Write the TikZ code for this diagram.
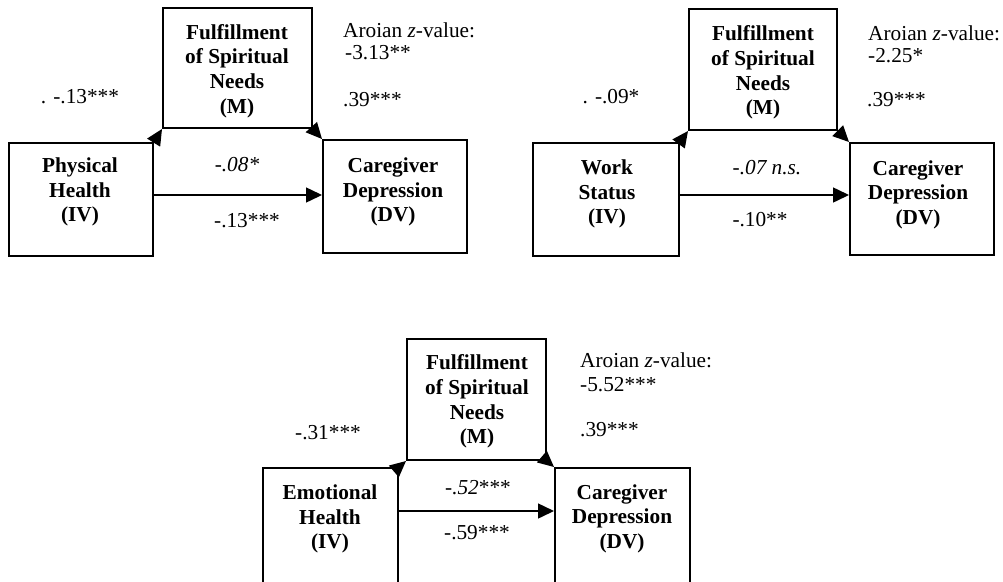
\documentclass[tikz,border=0pt]{standalone}
\usepackage{fontspec}
\setmainfont{Liberation Serif}
\usetikzlibrary{arrows.meta,calc}
\begin{document}
\begin{tikzpicture}[x=1pt,y=-1pt,
  every node/.style={font=\fontsize{21.3}{24.6}\selectfont, inner sep=0pt},
  box/.style={draw, line width=2pt, rectangle, minimum width=#1},
  boxtext/.style={align=center, font=\fontsize{21.3}{24.6}\selectfont\bfseries},
  lab/.style={anchor=west},
  clab/.style={anchor=center},
  arr/.style={line width=1.5pt, -{Triangle[length=16pt,width=15pt]}}
]
\useasboundingbox (0,0) rectangle (1003,581);
\clip (0,0) rectangle (1003,581);

% ---------------- Panel 1 ----------------
\node[box=149pt, minimum height=120pt] (m1) at (237.5,68) {};
\node[box=144pt, minimum height=113pt] (iv1) at (81,199.5) {};
\node[box=144pt, minimum height=113pt] (dv1) at (395,196.5) {};
\node[boxtext] (m1t) at (237,71) {Fulfillment\\of Spiritual\\Needs\\(M)};
\node[boxtext] (iv1t) at (80,192) {Physical\\Health\\(IV)};
\node[boxtext] (dv1t) at (393,192) {Caregiver\\Depression\\(DV)};
\coordinate (h1) at (0,195);
\draw[arr] (iv1.north east) -- (m1.south west);
\draw[arr] (m1.south east) -- (dv1.north west);
\draw[arr] (iv1.east |- h1) -- (dv1.west |- h1);
\node[clab] (a1) at (80,97) {. -.13***};
\node[lab] (z1) at (343,30) {Aroian \textit{z}-value:};
\node[lab] (zv1) at (345,53) {-3.13**};
\node[lab] (b1) at (343,100) {.39***};
\node[clab] (c1) at (237,165) {\textit{-.08*}};
\node[clab] (d1) at (247,221) {-.13***};

% ---------------- Panel 2 ----------------
\node[box=148pt, minimum height=121pt] (m2) at (763,69.5) {};
\node[box=146pt, minimum height=113pt] (iv2) at (606,199.5) {};
\node[box=144pt, minimum height=112pt] (dv2) at (922,199) {};
\node[boxtext] (m2t) at (763,72.5) {Fulfillment\\of Spiritual\\Needs\\(M)};
\node[boxtext] (iv2t) at (607,194) {Work\\Status\\(IV)};
\node[boxtext] (dv2t) at (918,194.5) {Caregiver\\Depression\\(DV)};
\coordinate (h2) at (0,195);
\draw[arr] (iv2.north east) -- (m2.south west);
\draw[arr] (m2.south east) -- (dv2.north west);
\draw[arr] (iv2.east |- h2) -- (dv2.west |- h2);
\node[clab] (a2) at (611,97) {. -.09*};
\node[lab] (z2) at (868,33) {Aroian \textit{z}-value:};
\node[lab] (zv2) at (868,56) {-2.25*};
\node[lab] (b2) at (867,100) {.39***};
\node[clab] (c2) at (767,168) {\textit{-.07 n.s.}};
\node[clab] (d2) at (760,220) {-.10**};

% ---------------- Panel 3 ----------------
\node[box=139pt, minimum height=121pt] (m3) at (476.5,399.5) {};
\node[box=135pt, minimum height=132pt] (iv3) at (330.5,534) {};
\node[box=135pt, minimum height=132pt] (dv3) at (622.5,534) {};
\node[boxtext] (m3t) at (477,401.5) {Fulfillment\\of Spiritual\\Needs\\(M)};
\node[boxtext] (iv3t) at (330,519) {Emotional\\Health\\(IV)};
\node[boxtext] (dv3t) at (622,518.5) {Caregiver\\Depression\\(DV)};
\coordinate (h3) at (0,511);
\draw[arr] (iv3.north east) -- (m3.south west);
\draw[arr] (m3.south east) -- (dv3.north west);
\draw[arr] (iv3.east |- h3) -- (dv3.west |- h3);
\node[clab] (a3) at (328,433) {-.31***};
\node[lab] (z3) at (580,360) {Aroian \textit{z}-value:};
\node[lab] (zv3) at (580,385) {-5.52***};
\node[lab] (b3) at (580,430) {.39***};
\node[clab] (c3) at (478,488) {\textit{-.52}***};
\node[clab] (d3) at (477,533) {-.59***};
\end{tikzpicture}
\end{document}
